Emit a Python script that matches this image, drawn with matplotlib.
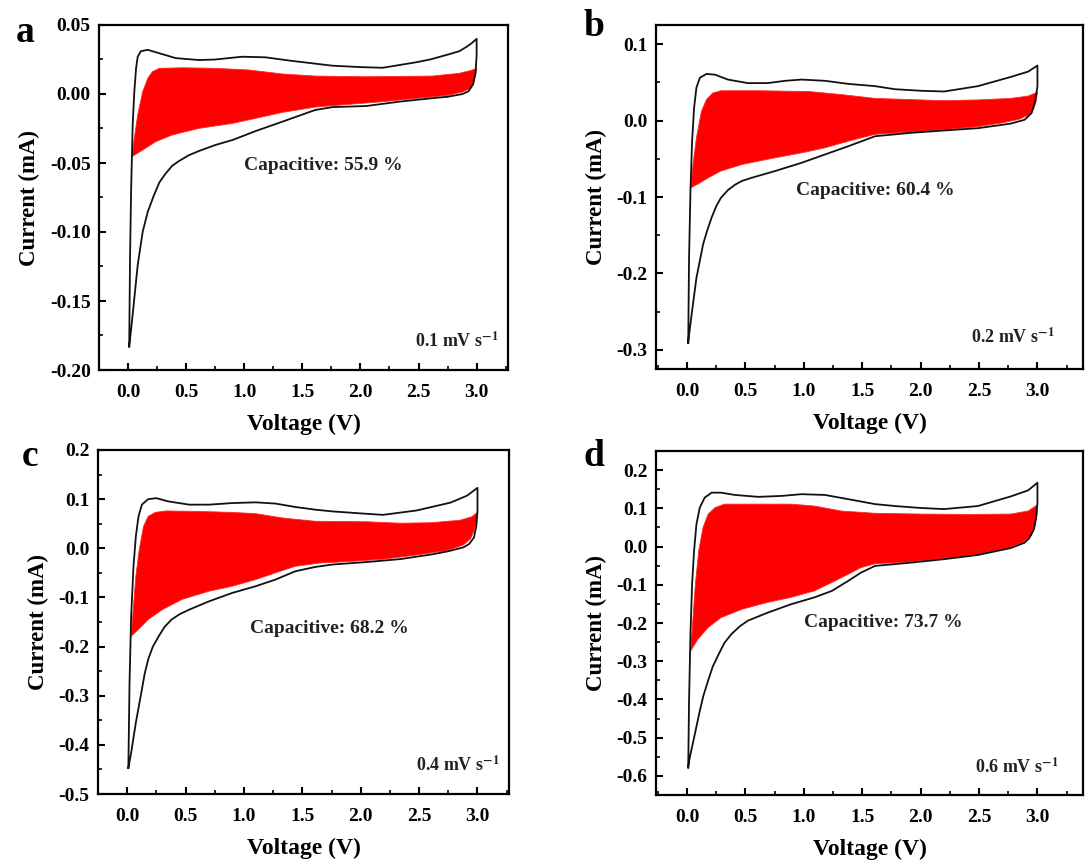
import matplotlib
matplotlib.use("Agg")
import matplotlib.pyplot as plt
from matplotlib.ticker import MultipleLocator, FormatStrFormatter

plt.rcParams['font.family'] = ['Liberation Serif', 'DejaVu Serif']
plt.rcParams['font.weight'] = 'bold'
plt.rcParams['axes.unicode_minus'] = False
plt.rcParams['mathtext.fontset'] = 'stix'

# ---------------- Panel a (0.1 mV/s) ----------------
a_cv_v = [0.01, 0.017, 0.026, 0.04, 0.054, 0.069, 0.083, 0.11, 0.17, 0.27, 0.41, 0.61, 0.75, 0.98, 1.18, 1.41, 1.61, 1.76, 2.0, 2.19, 2.3, 2.48, 2.6, 2.77, 2.85, 2.91, 2.96, 3.0,
          3.0, 2.99, 2.97, 2.93, 2.88, 2.75, 2.62, 2.34, 2.05, 1.76, 1.61, 1.33, 1.10, 0.90, 0.75, 0.61, 0.52, 0.44, 0.38, 0.32, 0.27, 0.22, 0.17, 0.126, 0.083, 0.054, 0.031, 0.01]
a_cv_i = [-0.183, -0.119, -0.071, -0.022, 0.0017, 0.0186, 0.027, 0.031, 0.032, 0.0295, 0.026, 0.0246, 0.025, 0.027, 0.0266, 0.024, 0.022, 0.0205, 0.0195, 0.019, 0.0205, 0.023, 0.025, 0.029, 0.031, 0.034, 0.037, 0.040,
          0.028, 0.015, 0.007, 0.002, 0.0, -0.002, -0.003, -0.0055, -0.0087, -0.0095, -0.0116, -0.020, -0.0268, -0.0333, -0.037, -0.0413, -0.0445, -0.0485, -0.052, -0.058, -0.064, -0.074, -0.0853, -0.0998, -0.124, -0.148, -0.167, -0.183]
a_cap_v = [0.034, 0.054, 0.083, 0.126, 0.17, 0.21, 0.27, 0.47, 0.75, 1.04, 1.33, 1.61, 2.05, 2.62, 2.85, 2.95, 3.0,
           2.99, 2.97, 2.94, 2.88, 2.75, 2.5, 2.2, 1.9, 1.61, 1.33, 1.10, 0.90, 0.61, 0.38, 0.24, 0.126]
a_cap_i = [-0.0454, -0.032, -0.0152, 0.0017, 0.0114, 0.0162, 0.0186, 0.019, 0.0186, 0.0174, 0.0145, 0.013, 0.0125, 0.013, 0.015, 0.017, 0.0185,
           0.013, 0.008, 0.004, 0.0015, -0.001, -0.003, -0.0055, -0.0075, -0.0095, -0.0133, -0.0176, -0.0213, -0.0249, -0.0297, -0.0345, -0.0406]

# ---------------- Panel b (0.2 mV/s) ----------------
b_cv_v = [0.01, 0.017, 0.029, 0.043, 0.06, 0.08, 0.11, 0.166, 0.24, 0.35, 0.52, 0.69, 0.84, 0.98, 1.18, 1.38, 1.61, 1.78, 2.0, 2.2, 2.49, 2.77, 2.92, 3.0,
          3.0, 2.98, 2.95, 2.89, 2.77, 2.49, 2.2, 1.92, 1.61, 1.38, 1.18, 0.98, 0.75, 0.55, 0.47, 0.41, 0.35, 0.29, 0.25, 0.21, 0.17, 0.137, 0.08, 0.043, 0.014, 0.01]
b_cv_i = [-0.291, -0.18, -0.092, -0.027, 0.0166, 0.043, 0.056, 0.061, 0.060, 0.0536, 0.049, 0.049, 0.052, 0.0536, 0.052, 0.048, 0.045, 0.041, 0.039, 0.038, 0.045, 0.057, 0.064, 0.072,
          0.045, 0.025, 0.010, 0.001, -0.004, -0.010, -0.013, -0.016, -0.0205, -0.0336, -0.0444, -0.0553, -0.0662, -0.075, -0.079, -0.084, -0.091, -0.101, -0.112, -0.127, -0.145, -0.162, -0.206, -0.249, -0.284, -0.291]
b_cap_v = [0.031, 0.051, 0.08, 0.123, 0.166, 0.22, 0.29, 0.61, 1.04, 1.32, 1.61, 2.0, 2.2, 2.5, 2.77, 2.92, 3.0,
           2.99, 2.97, 2.93, 2.85, 2.7, 2.49, 2.2, 1.92, 1.61, 1.38, 1.18, 0.98, 0.75, 0.47, 0.29, 0.18, 0.094]
b_cap_i = [-0.088, -0.0575, -0.0227, 0.012, 0.0275, 0.036, 0.039, 0.039, 0.038, 0.034, 0.029, 0.027, 0.026, 0.027, 0.029, 0.032, 0.037,
           0.026, 0.016, 0.008, 0.002, -0.003, -0.008, -0.012, -0.015, -0.018, -0.027, -0.0357, -0.0423, -0.0488, -0.0575, -0.066, -0.075, -0.083]

# ---------------- Panel c (0.4 mV/s) ----------------
c_cv_v = [0.01, 0.02, 0.034, 0.054, 0.074, 0.097, 0.126, 0.18, 0.25, 0.35, 0.53, 0.70, 0.90, 1.10, 1.27, 1.44, 1.61, 1.76, 2.0, 2.19, 2.48, 2.77, 2.91, 3.0,
          3.0, 2.99, 2.97, 2.93, 2.88, 2.75, 2.62, 2.34, 2.05, 1.76, 1.61, 1.44, 1.27, 1.10, 0.90, 0.70, 0.53, 0.45, 0.38, 0.32, 0.27, 0.22, 0.18, 0.15, 0.126, 0.074, 0.034, 0.01]
c_cv_i = [-0.447, -0.274, -0.138, -0.037, 0.024, 0.065, 0.089, 0.100, 0.102, 0.0955, 0.0888, 0.0888, 0.092, 0.0935, 0.091, 0.084, 0.0786, 0.075, 0.071, 0.068, 0.077, 0.093, 0.107, 0.123,
          0.075, 0.045, 0.022, 0.009, 0.002, -0.006, -0.012, -0.022, -0.028, -0.033, -0.038, -0.0467, -0.0637, -0.0772, -0.0908, -0.108, -0.125, -0.134, -0.145, -0.160, -0.179, -0.200, -0.226, -0.255, -0.287, -0.355, -0.416, -0.447]
c_cap_v = [0.034, 0.054, 0.074, 0.103, 0.14, 0.18, 0.24, 0.33, 0.61, 0.90, 1.10, 1.33, 1.61, 2.05, 2.34, 2.6, 2.85, 2.95, 3.0,
           2.99, 2.97, 2.94, 2.88, 2.75, 2.5, 2.2, 1.9, 1.65, 1.44, 1.27, 1.10, 0.90, 0.70, 0.47, 0.30, 0.18, 0.097]
c_cap_i = [-0.179, -0.118, -0.057, -0.003, 0.0447, 0.065, 0.073, 0.076, 0.075, 0.073, 0.0705, 0.0617, 0.055, 0.054, 0.051, 0.052, 0.057, 0.064, 0.073,
           0.055, 0.035, 0.019, 0.007, -0.004, -0.013, -0.022, -0.027, -0.030, -0.0366, -0.050, -0.0637, -0.0772, -0.0874, -0.104, -0.125, -0.145, -0.165]

# ---------------- Panel d (0.6 mV/s) ----------------
d_cv_v = [0.01, 0.017, 0.029, 0.043, 0.06, 0.08, 0.109, 0.151, 0.21, 0.29, 0.41, 0.61, 0.81, 0.98, 1.18, 1.38, 1.61, 1.78, 2.0, 2.2, 2.49, 2.77, 2.92, 3.0,
          3.0, 2.99, 2.97, 2.93, 2.89, 2.77, 2.49, 2.2, 1.92, 1.61, 1.49, 1.38, 1.24, 1.09, 0.89, 0.69, 0.52, 0.45, 0.38, 0.32, 0.27, 0.22, 0.18, 0.14, 0.109, 0.06, 0.023, 0.01]
d_cv_i = [-0.578, -0.404, -0.229, -0.0985, -0.011, 0.058, 0.102, 0.128, 0.141, 0.141, 0.135, 0.130, 0.1325, 0.137, 0.135, 0.124, 0.111, 0.106, 0.101, 0.098, 0.106, 0.131, 0.147, 0.167,
          0.115, 0.080, 0.045, 0.022, 0.010, -0.004, -0.022, -0.033, -0.042, -0.0506, -0.068, -0.0898, -0.116, -0.133, -0.151, -0.173, -0.194, -0.209, -0.229, -0.252, -0.282, -0.314, -0.351, -0.39, -0.43, -0.50, -0.552, -0.578]
d_cap_v = [0.031, 0.051, 0.071, 0.10, 0.137, 0.18, 0.24, 0.32, 0.61, 0.89, 1.09, 1.32, 1.61, 2.0, 2.4, 2.77, 2.92, 3.0,
           2.995, 2.98, 2.95, 2.88, 2.75, 2.49, 2.2, 1.92, 1.61, 1.49, 1.38, 1.24, 1.09, 0.89, 0.69, 0.47, 0.29, 0.18, 0.094]
d_cap_i = [-0.273, -0.186, -0.0985, -0.011, 0.050, 0.0846, 0.102, 0.111, 0.111, 0.111, 0.106, 0.093, 0.087, 0.085, 0.084, 0.085, 0.093, 0.109,
           0.080, 0.055, 0.030, 0.012, -0.004, -0.020, -0.031, -0.040, -0.045, -0.055, -0.0724, -0.094, -0.116, -0.133, -0.146, -0.164, -0.186, -0.212, -0.242]

panel_letters = ['a', 'b', 'c', 'd']
capacitive_labels = ['Capacitive: 55.9 %', 'Capacitive: 60.4 %', 'Capacitive: 68.2 %', 'Capacitive: 73.7 %']
rate_labels = ['0.1', '0.2', '0.4', '0.6']
ylims = [(-0.20, 0.05), (-0.325, 0.125), (-0.5, 0.2), (-0.65, 0.25)]
xlims = [(-0.25, 3.27), (-0.266, 3.39), (-0.25, 3.27), (-0.266, 3.39)]
y_major = [0.05, 0.1, 0.1, 0.1]
y_fmt = ['%.2f', '%.1f', '%.1f', '%.1f']
cap_text_pos = [(1.68, -0.0515), (1.61, -0.091), (1.73, -0.164), (1.68, -0.199)]
rate_text_pos = [(3.19, -0.179), (3.15, -0.283), (3.19, -0.442), (3.18, -0.578)]

cv_data = [(a_cv_v, a_cv_i), (b_cv_v, b_cv_i), (c_cv_v, c_cv_i), (d_cv_v, d_cv_i)]
cap_data = [(a_cap_v, a_cap_i), (b_cap_v, b_cap_i), (c_cap_v, c_cap_i), (d_cap_v, d_cap_i)]

W, H = 1088, 863
fig = plt.figure(figsize=(W / 100, H / 100), dpi=100)

# axes boxes in pixel coords: left, top, right, bottom
boxes = [(99, 25, 508, 370), (656, 25, 1083, 369), (98, 450, 509, 794), (656, 451, 1083, 795)]
letter_pos = [(25, 33), (594, 27), (30, 456), (594, 456)]

for k in range(4):
    l, t, r, b = boxes[k]
    ax = fig.add_axes([l / W, 1 - b / H, (r - l) / W, (b - t) / H])
    cv_v, cv_i = cv_data[k]
    cap_v, cap_i = cap_data[k]
    ax.fill(cap_v, cap_i, color='#ff0000', lw=0.6, ec='#ff2a2a', zorder=2, joinstyle='round')
    ax.plot(cv_v, cv_i, color='#111111', lw=1.3, zorder=3, solid_joinstyle='round')
    ax.set_xlim(*xlims[k])
    ax.set_ylim(*ylims[k])
    ax.xaxis.set_major_locator(MultipleLocator(0.5))
    ax.xaxis.set_minor_locator(MultipleLocator(0.25))
    ax.yaxis.set_major_locator(MultipleLocator(y_major[k]))
    ax.yaxis.set_minor_locator(MultipleLocator(y_major[k] / 2))
    ax.xaxis.set_major_formatter(FormatStrFormatter('%.1f'))
    ax.yaxis.set_major_formatter(FormatStrFormatter(y_fmt[k]))
    ax.tick_params(which='major', direction='in', length=5, width=1.5, labelsize=14, pad=6)
    ax.tick_params(which='minor', direction='in', length=3, width=1.2)
    ax.tick_params(axis='x', pad=10)
    for s in ax.spines.values():
        s.set_linewidth(1.6)
    for lab in ax.get_xticklabels() + ax.get_yticklabels():
        lab.set_fontweight('bold')
    ax.set_xlabel('Voltage (V)', fontsize=17, fontweight='bold', labelpad=9)
    ax.set_ylabel('Current (mA)', fontsize=16.5, fontweight='bold', labelpad=7)
    ax.text(cap_text_pos[k][0], cap_text_pos[k][1], capacitive_labels[k], ha='center', va='center',
            fontsize=14, fontweight='bold', color='#222222', zorder=4)
    ax.text(rate_text_pos[k][0], rate_text_pos[k][1], rate_labels[k] + r' mV s$^{\mathbf{-1}}$', ha='right', va='center',
            fontsize=13, fontweight='bold', color='#222222', zorder=4)
    fig.text(letter_pos[k][0] / W, 1 - letter_pos[k][1] / H, panel_letters[k], ha='center', va='center',
             fontsize=27, fontweight='bold')

fig.savefig('out.png', dpi=100)
